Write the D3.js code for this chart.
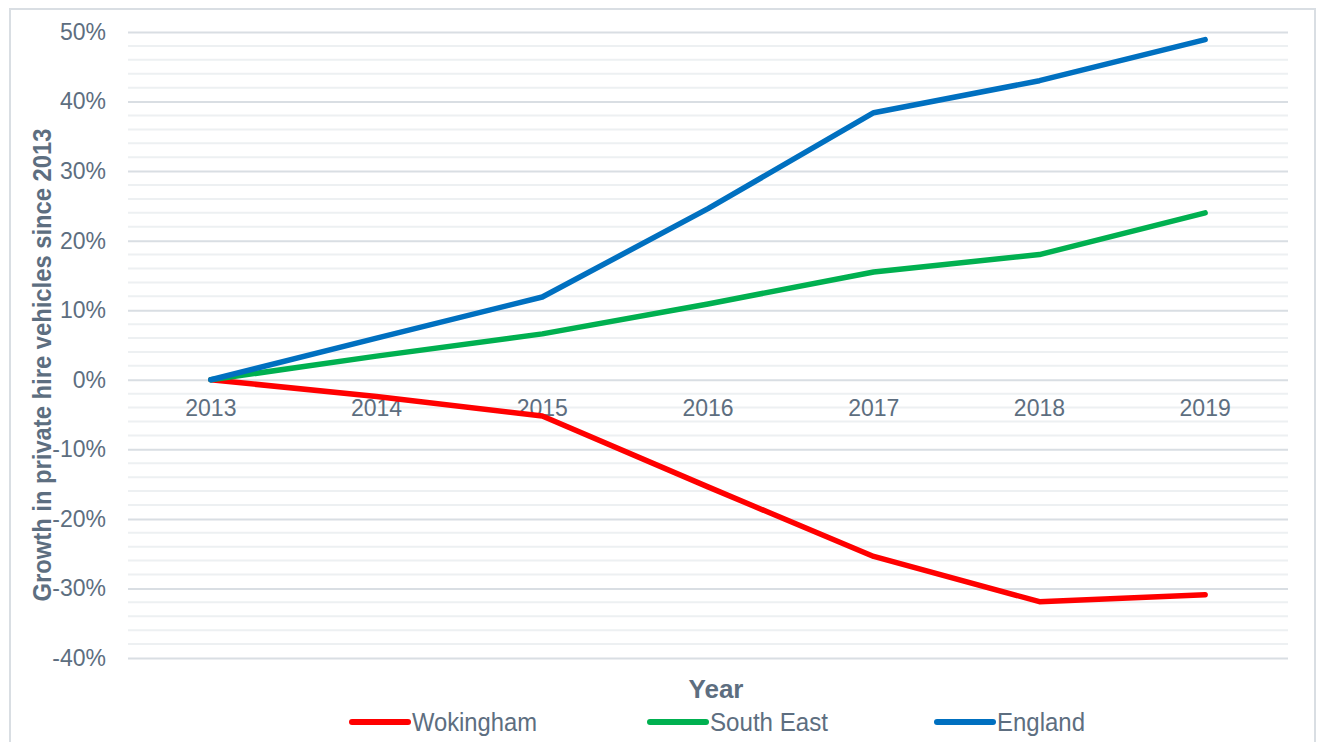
<!DOCTYPE html>
<html>
<head>
<meta charset="utf-8">
<script src="https://cdn.jsdelivr.net/npm/d3@7"></script>
<style>
  html, body { margin: 0; padding: 0; background: #ffffff; }
  svg { display: block; font-family: "Liberation Sans", Arial, sans-serif; }
</style>
</head>
<body>
<svg id="chart" width="1321" height="742"></svg>
<script>
// Growth in private hire vehicles since 2013 (fraction of 2013 level)
const years = ["2013", "2014", "2015", "2016", "2017", "2018", "2019"];
const wokingham = [0, -0.024, -0.052, -0.154, -0.254, -0.319, -0.309];
const southEast = [0, 0.034, 0.066, 0.109, 0.155, 0.180, 0.240];
const england   = [0, 0.060, 0.119, 0.246, 0.384, 0.430, 0.489];
const seriesNames = ["Wokingham", "South East", "England"];
const seriesColors = ["#ff0000", "#00b050", "#0070c0"];
const yTicks = [0.5, 0.4, 0.3, 0.2, 0.1, 0, -0.1, -0.2, -0.3, -0.4];

const series = [wokingham, southEast, england].map((values, i) => ({
  name: seriesNames[i], color: seriesColors[i], values
}));

const svg = d3.select("#chart");
const textColor = "#5d6e80";

// Outer chart frame
svg.append("rect")
  .attr("x", 10).attr("y", 9)
  .attr("width", 1305).attr("height", 760)
  .attr("fill", "none")
  .attr("stroke", "#d9dee3")
  .attr("stroke-width", 2);

const plot = { left: 128, right: 1288, top: 32, bottom: 658 };

const x = d3.scaleBand().domain(years).range([plot.left, plot.right]);
const y = d3.scaleLinear().domain([-0.4, 0.5]).range([plot.bottom, plot.top]);

// Minor gridlines every 2%
const minor = d3.range(-40, 51, 2).filter(v => v % 10 !== 0).map(v => v / 100);
svg.append("g").selectAll("line").data(minor).join("line")
  .attr("x1", plot.left).attr("x2", plot.right)
  .attr("y1", d => y(d)).attr("y2", d => y(d))
  .attr("stroke", "#edf0f2").attr("stroke-width", 2);

// Major gridlines and percentage labels
const yAxis = d3.axisLeft(y)
  .tickValues(yTicks)
  .tickFormat(d => Math.round(d * 100) + "%")
  .tickSize(-(plot.right - plot.left))
  .tickPadding(22);

const yg = svg.append("g")
  .attr("transform", `translate(${plot.left},0)`)
  .call(yAxis);
yg.select(".domain").remove();
yg.selectAll(".tick line").attr("stroke", "#d9dee3").attr("stroke-width", 2);
yg.selectAll(".tick text")
  .attr("fill", textColor)
  .style("font-size", "23px");

// Category axis sitting on the zero line, labels below
const xAxis = d3.axisBottom(x).tickSize(0).tickPadding(20);
const xg = svg.append("g")
  .attr("transform", `translate(0,${y(0)})`)
  .call(xAxis);
xg.select(".domain").remove();
xg.selectAll(".tick text")
  .attr("fill", textColor)
  .style("font-size", "23px");

// Series lines
const line = d3.line()
  .x((d, i) => x(years[i]) + x.bandwidth() / 2)
  .y(d => y(d));

svg.append("g").selectAll("path").data(series).join("path")
  .attr("d", d => line(d.values))
  .attr("fill", "none")
  .attr("stroke", d => d.color)
  .attr("stroke-width", 5.5)
  .attr("stroke-linecap", "round")
  .attr("stroke-linejoin", "round");

// Axis titles
svg.append("text")
  .attr("transform", "translate(51,365) rotate(-90)")
  .attr("text-anchor", "middle")
  .attr("fill", textColor)
  .attr("textLength", 473)
  .attr("lengthAdjust", "spacingAndGlyphs")
  .style("font-size", "26px")
  .style("font-weight", "bold")
  .text("Growth in private hire vehicles since 2013");

svg.append("text")
  .attr("x", 716).attr("y", 698)
  .attr("text-anchor", "middle")
  .attr("fill", textColor)
  .attr("textLength", 55)
  .attr("lengthAdjust", "spacingAndGlyphs")
  .style("font-size", "26px")
  .style("font-weight", "bold")
  .text("Year");

// Legend
const legendX = [352, 650, 937];
const legendW = [125, 118, 88];
const lg = svg.append("g").selectAll("g").data(series).join("g")
  .attr("transform", (d, i) => `translate(${legendX[i]},722)`);
lg.append("line")
  .attr("x1", 0).attr("x2", 56)
  .attr("stroke", d => d.color)
  .attr("stroke-width", 6)
  .attr("stroke-linecap", "round");
lg.append("text")
  .attr("x", 60).attr("y", 9)
  .attr("fill", textColor)
  .attr("textLength", (d, i) => legendW[i])
  .attr("lengthAdjust", "spacingAndGlyphs")
  .style("font-size", "26px")
  .text(d => d.name);
</script>
</body>
</html>
